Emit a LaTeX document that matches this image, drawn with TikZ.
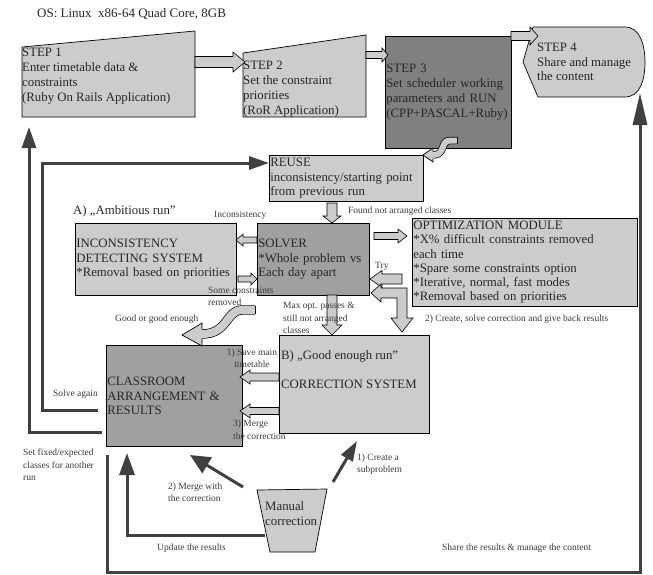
\documentclass[tikz,border=0pt]{standalone}
\usepackage{fontspec}
\setmainfont{Liberation Serif}
\usetikzlibrary{arrows.meta,calc}
\definecolor{lg}{HTML}{CCCCCC}
\definecolor{mg}{HTML}{A0A0A0}
\definecolor{dg}{HTML}{808080}
\definecolor{ln}{HTML}{404040}
\definecolor{tx}{HTML}{262626}
\definecolor{lb}{HTML}{3A3A3A}
\newcommand\hblk[6]{%
  \pgfmathsetmacro\hbx{#2>#1 ? #2-#6 : #2+#6}%
  \draw[blk] (#1,{#3-#4}) -- (\hbx,{#3-#4}) -- (\hbx,{#3-#5}) -- (#2,#3) -- (\hbx,{#3+#5}) -- (\hbx,{#3+#4}) -- (#1,{#3+#4}) -- cycle;}
\newcommand\vblk[6]{%
  \pgfmathsetmacro\vby{#2>#1 ? #2-#6 : #2+#6}%
  \draw[blk] ({#3-#4},#1) -- ({#3-#4},\vby) -- ({#3-#5},\vby) -- (#3,#2) -- ({#3+#5},\vby) -- ({#3+#4},\vby) -- ({#3+#4},#1) -- cycle;}
\begin{document}
\begin{tikzpicture}[x=1pt,y=-1pt,
  every node/.style={text=tx, inner sep=0pt},
  main/.style={font=\fontsize{12.8}{14.5}\selectfont},
  stepfont/.style={font=\fontsize{12.8}{15}\selectfont},
  small/.style={font=\fontsize{9.5}{12}\selectfont, text=lb},
  box/.style={draw=black, line width=0.7pt, anchor=north west, main, align=left, inner xsep=1pt},
  shapeline/.style={draw=black, line width=0.7pt},
  blk/.style={draw=black, fill=lg, line width=0.6pt, line join=miter},
  bigline/.style={draw=ln, line width=3pt, line join=miter},
]
\useasboundingbox (0,0) rectangle (653,574);

% title
\node[main, anchor=west, font=\fontsize{13}{15}\selectfont] (title) at (37,14) {OS: Linux\ \ x86-64 Quad Core, 8GB};

% step shapes
\draw[shapeline, fill=lg] (22,47) -- (195,31) -- (195,117) -- (22,117) -- cycle;
\node[stepfont, align=left, anchor=west] (step1) at (22,76) {STEP 1\\Enter timetable data \&\\constraints\\(Ruby On Rails Application)};
\draw[shapeline, fill=lg] (243,53) -- (366,35) -- (366,117) -- (243,117) -- cycle;
\node[stepfont, align=left, anchor=west] (step2) at (243,89) {STEP 2\\Set the constraint\\priorities\\(RoR Application)};
\node[box, stepfont, fill=dg, minimum width=126pt, minimum height=112pt, text width=124pt] (step3) at (385,36) {STEP 3\\Set scheduler working\\parameters and RUN\\(CPP+PASCAL+Ruby)};
\draw[shapeline, fill=lg] (523,62) -- (533,27) -- (625,27) .. controls (640,27) and (645,45) .. (645,62) .. controls (645,80) and (640,97) .. (625,97) -- (538,97) -- cycle;
\node[main, align=left, anchor=west] (step4) at (537,62) {STEP 4\\Share and manage\\the content};

% boxes
\node[box, fill=lg, minimum width=154pt, minimum height=46pt, text width=152pt] (reuse) at (269,155) {REUSE\\inconsistency/starting point\\from previous run};
\node[box, fill=mg, minimum width=112pt, minimum height=72pt, text width=110pt] (solver) at (257,223) {SOLVER\\{}*Whole problem vs\\Each day apart};
\node[box, fill=lg, minimum width=161pt, minimum height=72pt, text width=159pt] (incons) at (75,223) {INCONSISTENCY\\DETECTING SYSTEM\\{}*Removal based on priorities};
\node[box, fill=lg, minimum width=225pt, minimum height=88pt, text width=223pt, font=\fontsize{12.8}{14.2}\selectfont] (opt) at (412,218) {OPTIMIZATION MODULE\\{}*X\% difficult constraints removed\\each time\\{}*Spare some constraints option\\{}*Iterative, normal, fast modes\\{}*Removal based on priorities};
\node[box, fill=lg, minimum width=150pt, minimum height=98pt] (corr) at (279,335) {};
\node[main, align=left, anchor=west] (corrtext) at (281,370) {B) „Good enough run”\\[14.5pt]CORRECTION SYSTEM};
\node[box, fill=mg, minimum width=136pt, minimum height=101pt, text width=134pt] (class) at (106,345) {CLASSROOM\\ARRANGEMENT \&\\RESULTS};
\draw[shapeline, fill=lg] (257,490) -- (327,489) -- (315,552) -- (270,552) -- cycle;
\node[main, align=left, anchor=west, font=\fontsize{12.8}{15}\selectfont] (manual) at (265,514) {Manual\\correction};

% block arrows
\hblk{195}{245}{62}{5.5}{10}{12}
\hblk{366}{388}{55}{3.5}{7}{6}
\hblk{511}{538}{36}{4.5}{9}{8}
\vblk{203}{223}{332}{5}{9}{7}
\hblk{257}{236}{240}{3}{6}{7}
\hblk{238}{257}{279}{3}{6}{6}
\hblk{374}{407}{236}{3.5}{7}{9}
\hblk{402}{370}{279}{5}{8.5}{12}
\vblk{295}{335}{332}{5}{10}{10}
\hblk{279}{240}{377}{4}{7}{10}
\hblk{279}{240}{411}{3.5}{7}{10}
% bent double arrow
\draw[blk] (371,293) -- (381,284) -- (381,288) -- (407,288) -- (407,318) -- (413,318) -- (402,332) -- (391,318) -- (397,318) -- (397,298) -- (381,298) -- (381,302) -- cycle;

% curved block arrows
\draw[line width=0.7pt, double=lg, double distance=6pt] (457,140.5) -- (450,140.5) .. controls (440,140.5) and (446,155) .. (433,155);
\draw[line width=0.7pt] (457,136.8) -- (457,144.2);
\fill[lg] (433,148) -- (423,155) -- (433,162) -- cycle;
\draw[line width=0.7pt] (433,151.3) -- (433,148) -- (423,155) -- (433,162) -- (433,158.7);

\draw[line width=0.7pt, double=lg, double distance=8pt] (255,310) -- (242,310) .. controls (226,310) and (228,334) .. (202,334);
\draw[line width=0.7pt] (255,305.6) -- (255,314.4);
\fill[lg] (202.3,323) -- (182,335) -- (202.3,346) -- cycle;
\draw[line width=0.7pt] (202,329.6) -- (202,323) -- (182,335) -- (202,346) -- (202,338.4);

% thick connectors
\coordinate (sa0) at (98,410);
\coordinate (sf0) at (102,432);
\coordinate (sf1) at (29,127);
\coordinate (sh0) at (107,455);
\coordinate (st4) at (640,93);
\coordinate (up1) at (127,453);
\coordinate (mg1) at (190,455);
\coordinate (cs1) at (357,441);
\draw[bigline, -{Triangle[length=20pt,width=13pt]}] (sa0) -- (42,410) -- (42,163) -- (reuse.west |- 0,163);
\draw[bigline, -{Triangle[length=21pt,width=14pt]}] (sf0) -- (29,432) -- (sf1);
\draw[bigline, -{Triangle[length=22pt,width=15pt]}] (manual.west |- 0,535) -- (127,535) -- (up1);
\draw[bigline, -{Triangle[length=32pt,width=14pt]}] (sh0) -- (107,572) -- (640,572) -- (st4);
\draw[bigline, -{Triangle[length=20pt,width=18pt]}] (243,487) -- (mg1);
\draw[bigline, -{Triangle[length=20pt,width=13pt]}] (333,482) -- (cs1);

% labels
\node[main, anchor=west] (lamb) at (73,211) {A) „Ambitious run”};
\node[small, anchor=west] (linc) at (214,215) {Inconsistency};
\node[small, anchor=west] (lfound) at (348,211) {Found not arranged classes};
\node[small, anchor=west, align=left] (lsome) at (208,296) {Some constraints\\removed};
\node[small, anchor=west] (lgood) at (115,319) {Good or good enough};
\node[small, anchor=west, align=left, font=\fontsize{9.5}{12.5}\selectfont] (lmax) at (283,318) {Max opt. passes \&\\still not arranged\\classes};
\node[small, anchor=west] (ltry) at (375,266) {Try};
\node[small, anchor=west] (lcreate2) at (425,319) {2) Create, solve correction and give back results};
\node[small, align=center, font=\fontsize{9.5}{11.5}\selectfont] (lsave) at (252,358) {1) Save main\\timetable};
\node[small, anchor=west, align=left, font=\fontsize{9.5}{13}\selectfont] (lmerge3) at (233,430) {3) Merge\\the correction};
\node[small, anchor=west] (lsolve) at (53,394) {Solve again};
\node[small, anchor=west, align=left, font=\fontsize{9.5}{12.5}\selectfont] (lset) at (23,465) {Set fixed/expected\\classes for another\\run};
\node[small, anchor=west, align=left, font=\fontsize{9.5}{11.5}\selectfont] (lmerge2) at (168,492) {2) Merge with\\the correction};
\node[small, anchor=west] (lupd) at (157,548) {Update the results};
\node[small, anchor=west, align=left, font=\fontsize{9.5}{12.5}\selectfont] (lcreate1) at (357,464) {1) Create a\\subproblem};
\node[small, anchor=west] (lshare) at (442,548) {Share the results \& manage the content};
\end{tikzpicture}
\end{document}
